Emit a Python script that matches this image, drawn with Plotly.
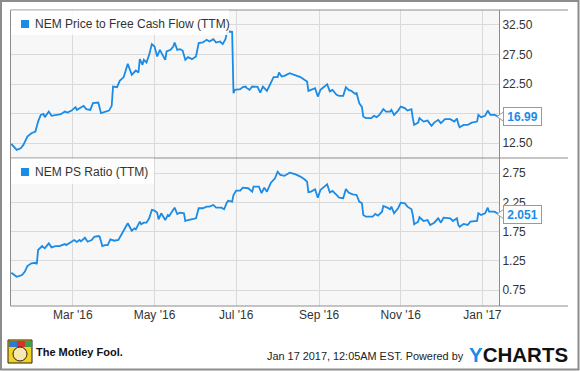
import pandas as pd
import plotly.graph_objects as go
from plotly.subplots import make_subplots

# ---------------- data ----------------
BASE_DATE = "2016-01-01"   # day offsets below are counted from this date

PFCF_NAME = "NEM Price to Free Cash Flow (TTM)"
PFCF_DAYS = [14, 18, 21, 23, 26, 29, 32, 34, 36, 38, 39, 42, 44, 47, 51, 54, 56, 59, 62, 63,
             65, 68, 70, 73, 75, 79, 81, 85, 87, 89, 90, 93, 95, 98, 101, 104, 107, 109, 110, 112,
             113, 115, 117, 119, 121, 123, 125, 127, 129, 130, 133, 135, 136, 138, 140, 142, 144, 146, 149, 152,
             154, 157, 160, 162, 165, 167, 170, 172, 174, 175, 177, 179, 180, 181, 185, 187, 189, 190, 192, 194,
             196, 198, 200, 202, 205, 207, 210, 213, 214, 216, 218, 222, 226, 230, 233, 235, 236, 238, 241, 243,
             245, 248, 250, 252, 254, 257, 259, 262, 264, 266, 268, 271, 272, 274, 276, 277, 279, 283, 285, 287,
             289, 292, 294, 297, 298, 300, 303, 305, 308, 310, 313, 314, 315, 318, 319, 322, 325, 328, 330, 333,
             335, 338, 342, 345, 347, 348, 349, 352, 355, 358, 362, 363, 365, 368, 370, 372, 375, 378]
PFCF_VALUES = [12.38, 11.37, 11.65, 12.21, 13.62, 14.19, 14.46, 16.15, 17.28, 17.45, 16.90, 17.84, 17.12, 17.28, 17.40, 17.84, 17.67, 18.01, 18.59, 18.13,
               18.42, 18.81, 18.25, 18.13, 19.26, 19.36, 17.57, 17.84, 18.01, 18.81, 22.07, 21.97, 23.03, 23.66, 25.91, 24.05, 24.77, 24.44, 26.70, 25.74,
               26.58, 26.13, 27.43, 29.24, 28.83, 27.14, 28.27, 27.43, 26.58, 27.99, 28.27, 28.83, 29.51, 28.27, 28.39, 28.15, 26.58, 27.04, 26.70, 27.14,
               29.41, 29.51, 29.96, 29.68, 30.08, 29.51, 29.68, 29.24, 30.08, 31.10, 31.37, 31.32, 20.95, 21.51, 21.63, 21.97, 22.07, 21.80, 21.51, 22.07,
               22.07, 22.00, 21.05, 22.07, 21.34, 22.36, 23.66, 23.66, 24.44, 23.76, 23.88, 24.33, 24.05, 23.66, 23.20, 22.91, 21.34, 21.51, 21.80, 20.38,
               21.51, 22.07, 22.47, 21.26, 21.51, 20.67, 20.50, 20.50, 21.97, 21.51, 21.34, 20.83, 20.95, 19.26, 18.59, 17.00, 16.73, 16.73, 17.12, 16.90,
               17.28, 18.25, 17.84, 17.84, 18.13, 17.28, 18.01, 18.69, 18.42, 18.01, 18.25, 16.73, 15.59, 15.98, 16.73, 16.15, 16.32, 15.42, 15.98, 16.44,
               15.88, 16.56, 16.56, 16.15, 16.66, 15.76, 15.20, 15.59, 15.59, 15.98, 16.15, 17.28, 16.90, 17.12, 18.01, 17.28, 17.28, 16.99]

PS_NAME = "NEM PS Ratio (TTM)"
PS_DAYS = [14, 18, 22, 24, 26, 29, 32, 33, 34, 37, 39, 42, 44, 47, 50, 54, 55, 58, 61, 63,
           65, 66, 69, 71, 74, 76, 79, 80, 82, 84, 86, 88, 91, 94, 96, 99, 101, 104, 106, 107,
           110, 111, 113, 115, 117, 119, 121, 123, 124, 126, 129, 131, 132, 134, 136, 138, 140, 143, 144, 146,
           149, 152, 154, 157, 160, 162, 165, 167, 171, 173, 175, 176, 179, 180, 182, 185, 187, 191, 194, 195,
           199, 201, 203, 205, 208, 211, 213, 215, 218, 222, 226, 230, 233, 235, 236, 238, 241, 243, 245, 248,
           250, 252, 254, 257, 259, 262, 264, 266, 269, 272, 274, 276, 277, 279, 284, 286, 288, 291, 292, 295,
           297, 298, 300, 303, 305, 308, 310, 313, 314, 315, 318, 319, 322, 325, 327, 330, 333, 335, 337, 342,
           344, 347, 348, 349, 352, 355, 357, 362, 363, 365, 368, 370, 371, 375, 378]
PS_VALUES = [1.048, 0.979, 1.009, 1.065, 1.163, 1.209, 1.219, 1.197, 1.437, 1.505, 1.466, 1.551, 1.483, 1.505, 1.505, 1.539, 1.522, 1.562, 1.608, 1.574,
             1.608, 1.586, 1.647, 1.579, 1.608, 1.664, 1.676, 1.664, 1.505, 1.522, 1.522, 1.620, 1.596, 1.608, 1.693, 1.808, 1.894, 1.767, 1.808, 1.791,
             1.921, 1.877, 1.904, 1.904, 1.979, 2.122, 2.110, 2.075, 1.962, 2.065, 1.950, 2.036, 2.019, 2.092, 2.161, 2.053, 2.075, 2.065, 1.933, 1.950,
             1.962, 1.979, 2.151, 2.151, 2.178, 2.178, 2.207, 2.161, 2.161, 2.134, 2.247, 2.281, 2.264, 2.378, 2.452, 2.452, 2.503, 2.493, 2.435, 2.521,
             2.521, 2.408, 2.503, 2.435, 2.589, 2.664, 2.777, 2.721, 2.704, 2.760, 2.733, 2.692, 2.647, 2.606, 2.425, 2.435, 2.476, 2.332, 2.464, 2.533,
             2.562, 2.421, 2.447, 2.378, 2.332, 2.322, 2.481, 2.418, 2.390, 2.378, 2.264, 2.237, 2.036, 2.007, 2.007, 2.053, 2.024, 2.092, 2.190, 2.161,
             2.134, 2.178, 2.065, 2.151, 2.247, 2.236, 2.178, 2.134, 2.036, 1.877, 1.921, 1.997, 1.933, 1.950, 1.865, 1.904, 1.979, 1.904, 1.990, 1.979,
             1.933, 1.979, 1.865, 1.836, 1.882, 1.865, 1.921, 1.933, 2.065, 2.036, 2.065, 2.161, 2.092, 2.092, 2.051]

X_TICK_DATES = ["2016-03-01", "2016-05-01", "2016-07-01", "2016-09-01", "2016-11-01", "2017-01-01"]
X_TICK_LABELS = ["Mar '16", "May '16", "Jul '16", "Sep '16", "Nov '16", "Jan '17"]
X_RANGE = ["2016-01-14 18:00", "2017-01-13 10:00"]

PFCF_TICKS = [12.5, 17.5, 22.5, 27.5, 32.5]
PFCF_TICK_LABELS = ["12.50", "", "22.50", "27.50", "32.50"]   # 17.50 sits under the value box
PFCF_RANGE = [10.0, 35.0]
PS_TICKS = [0.75, 1.25, 1.75, 2.25, 2.75]
PS_TICK_LABELS = ["0.75", "1.25", "1.75", "2.25", "2.75"]
PS_RANGE = [0.48, 3.01]

FOOTER_TEXT = "Jan 17 2017, 12:05AM EST. Powered by"
BRAND_TEXT = "The Motley Fool."

# ---------------- styling ----------------
W, H = 580, 371
ML, MR, MT, MB = 11, 81, 10, 65
PW, PH = W - ML - MR, H - MT - MB
LINE_BLUE = "#1a8be6"
GRID = "#dadada"
FRAME = "#8c8c8c"
TXT = "#333333"
FONT = "Liberation Sans, Arial, sans-serif"


def pxx(x):
    return (x - ML) / PW


def pxy(y):
    return (H - MB - y) / PH


base = pd.Timestamp(BASE_DATE)
pfcf_dates = [base + pd.Timedelta(days=d) for d in PFCF_DAYS]
ps_dates = [base + pd.Timedelta(days=d) for d in PS_DAYS]

fig = make_subplots(rows=2, cols=1, shared_xaxes=True, vertical_spacing=0)
fig.add_trace(go.Scatter(x=pfcf_dates, y=PFCF_VALUES, mode="lines", name=PFCF_NAME,
                         line=dict(color=LINE_BLUE, width=1.8), hoverinfo="skip"), row=1, col=1)
fig.add_trace(go.Scatter(x=ps_dates, y=PS_VALUES, mode="lines", name=PS_NAME,
                         line=dict(color=LINE_BLUE, width=1.8), hoverinfo="skip"), row=2, col=1)

xcommon = dict(range=X_RANGE, tickvals=X_TICK_DATES, ticktext=X_TICK_LABELS, showgrid=True,
               gridcolor=GRID, gridwidth=1, zeroline=False, showline=False, ticks="",
               tickfont=dict(size=12, color=TXT, family=FONT))
fig.update_xaxes(**xcommon)
fig.update_xaxes(showticklabels=False, row=1, col=1)
fig.update_xaxes(showticklabels=True, row=2, col=1)

ycommon = dict(side="right", showgrid=True, gridcolor=GRID, gridwidth=1, zeroline=False,
               showline=True, linecolor=FRAME, linewidth=1, mirror=True, ticks="",
               tickfont=dict(size=12, color=TXT, family=FONT))
fig.update_yaxes(range=PFCF_RANGE, tickvals=PFCF_TICKS, ticktext=PFCF_TICK_LABELS,
                 domain=[0.5, 1.0], row=1, col=1, **ycommon)
fig.update_yaxes(range=PS_RANGE, tickvals=PS_TICKS, ticktext=PS_TICK_LABELS,
                 domain=[0.0, 0.5], row=2, col=1, **ycommon)

shapes = []
# outer border
shapes.append(dict(type="rect", xref="paper", yref="paper", x0=pxx(1), x1=pxx(578.5), y0=pxy(369.5), y1=pxy(1),
                   line=dict(color=FRAME, width=2), fillcolor="rgba(0,0,0,0)", layer="above"))
# panel horizontal frame lines extending under the value axis
for yy in (10, 158, 306):
    shapes.append(dict(type="line", xref="paper", yref="paper", x0=pxx(10.5), x1=pxx(568), y0=pxy(yy), y1=pxy(yy),
                       line=dict(color=FRAME, width=1), layer="above"))
# legend boxes
for (x1, y0, y1) in ((229, 10.5, 35), (154, 158.5, 184)):
    shapes.append(dict(type="rect", xref="paper", yref="paper", x0=pxx(11), x1=pxx(x1), y0=pxy(y1), y1=pxy(y0),
                       line=dict(width=0), fillcolor="rgba(255,255,255,0.85)", layer="above"))
for (y0, y1) in ((20, 28), (168, 176)):
    shapes.append(dict(type="rect", xref="paper", yref="paper", x0=pxx(21), x1=pxx(29), y0=pxy(y1), y1=pxy(y0),
                       line=dict(width=0), fillcolor=LINE_BLUE, layer="above"))
# value-label chevrons
for yref, val in (("y", PFCF_VALUES[-1]), ("y2", PS_VALUES[-1])):
    shapes.append(dict(type="path", xref="paper", yref=yref, xsizemode="pixel", ysizemode="pixel",
                       xanchor=pxx(497), yanchor=val, path="M 0,0 L 7,5 L 7,-5 Z",
                       fillcolor="white", line=dict(color="#9a9a9a", width=1), layer="above"))
# Motley Fool jester icon (simple)
shapes.append(dict(type="rect", xref="paper", yref="paper", x0=pxx(8), x1=pxx(32), y0=pxy(363), y1=pxy(340),
                   fillcolor="#f4d21f", line=dict(color="#222", width=1), layer="above"))
shapes.append(dict(type="rect", xref="paper", yref="paper", x0=pxx(9), x1=pxx(17), y0=pxy(347), y1=pxy(341),
                   fillcolor="#2a7bd1", line=dict(width=0), layer="above"))
shapes.append(dict(type="rect", xref="paper", yref="paper", x0=pxx(17), x1=pxx(25), y0=pxy(347), y1=pxy(341),
                   fillcolor="#d8322b", line=dict(width=0), layer="above"))
shapes.append(dict(type="rect", xref="paper", yref="paper", x0=pxx(25), x1=pxx(31), y0=pxy(347), y1=pxy(341),
                   fillcolor="#3aa34a", line=dict(width=0), layer="above"))
shapes.append(dict(type="circle", xref="paper", yref="paper", x0=pxx(13), x1=pxx(27), y0=pxy(361), y1=pxy(347),
                   fillcolor="#f7e7b0", line=dict(color="#222", width=1), layer="above"))

annotations = [
    dict(text=PFCF_NAME, xref="paper", yref="paper", x=pxx(33), y=pxy(24), xanchor="left", yanchor="middle",
         showarrow=False, font=dict(size=12, color=TXT, family=FONT)),
    dict(text=PS_NAME, xref="paper", yref="paper", x=pxx(33), y=pxy(172), xanchor="left", yanchor="middle",
         showarrow=False, font=dict(size=12, color=TXT, family=FONT)),
    dict(text=f"<b>{PFCF_VALUES[-1]:.2f}</b>", xref="paper", yref="y", x=pxx(503), y=PFCF_VALUES[-1],
         xanchor="left", yanchor="middle", showarrow=False, bgcolor="white", bordercolor="#9a9a9a",
         borderwidth=1, borderpad=1, width=35, height=15, align="center",
         font=dict(size=12, color=LINE_BLUE, family=FONT)),
    dict(text=f"<b>{PS_VALUES[-1]:.3f}</b>", xref="paper", yref="y2", x=pxx(503), y=PS_VALUES[-1],
         xanchor="left", yanchor="middle", showarrow=False, bgcolor="white", bordercolor="#9a9a9a",
         borderwidth=1, borderpad=1, width=35, height=15, align="center",
         font=dict(size=12, color=LINE_BLUE, family=FONT)),
    dict(text=f"<b>{BRAND_TEXT}</b>", xref="paper", yref="paper", x=pxx(34), y=pxy(352), xanchor="left",
         yanchor="middle", showarrow=False, font=dict(size=11, color="#111", family=FONT)),
    dict(text=FOOTER_TEXT, xref="paper", yref="paper", x=pxx(265), y=pxy(356), xanchor="left",
         yanchor="middle", showarrow=False, font=dict(size=10.9, color="#222", family=FONT)),
    dict(text=f"<b><span style='color:{LINE_BLUE}'>Y</span>CHARTS</b>", xref="paper", yref="paper",
         x=pxx(467), y=pxy(354), xanchor="left", yanchor="middle", showarrow=False,
         font=dict(size=20.5, color="#111", family=FONT)),
]

fig.update_layout(width=W, height=H, margin=dict(l=ML, r=MR, t=MT, b=MB, pad=0),
                  paper_bgcolor="white", plot_bgcolor="#f7f7f7", showlegend=False,
                  shapes=shapes, annotations=annotations, font=dict(family=FONT, color=TXT))

fig.write_html("out.html", config={"displayModeBar": False},
               post_script="document.body.style.margin='0px';")
